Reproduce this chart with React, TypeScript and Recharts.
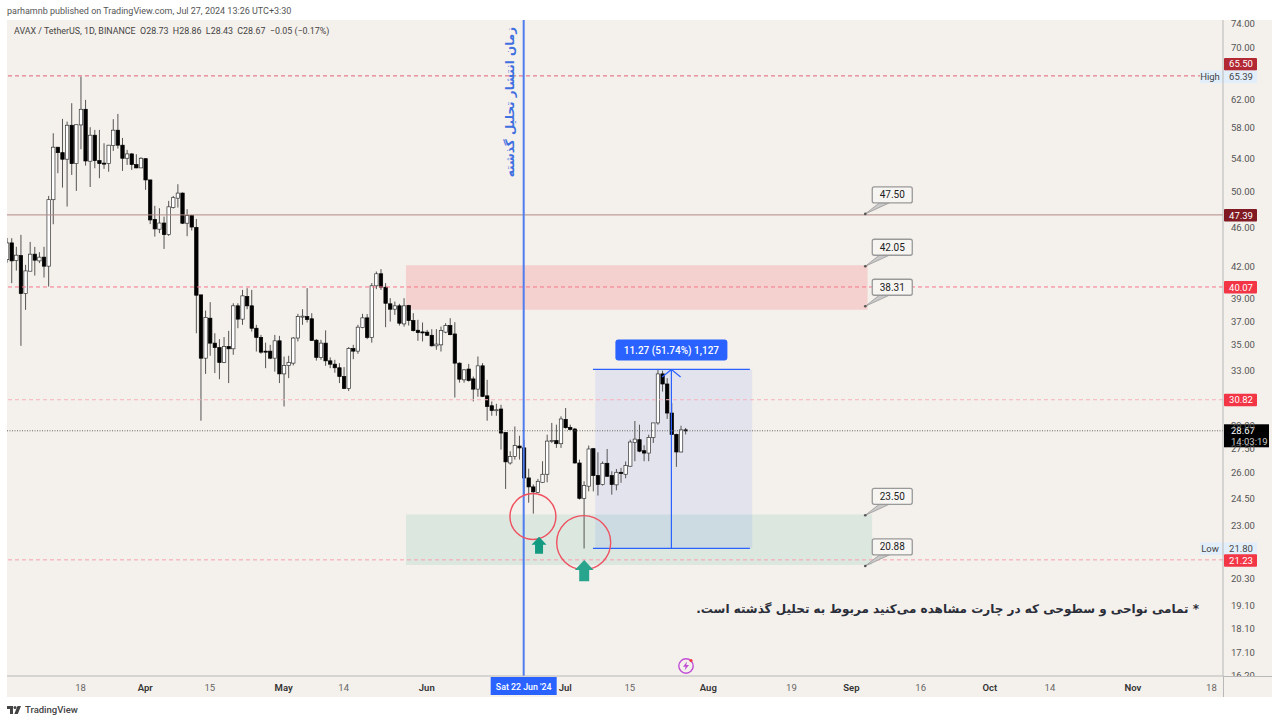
import React from 'react'
import {
  ComposedChart,
  Bar,
  XAxis,
  YAxis,
  ReferenceLine,
  ReferenceArea,
  ReferenceDot,
} from 'recharts'

const opens = [
  42.7,
  44.4, 42.61, 43.11, 39.46, 41.57, 43.25, 42.58, 42.95, 42.06, 49.1,
  55.48, 54.78, 53.95, 58.39, 53.4, 58.43, 60.6, 53.7, 57.05, 53.77,
  53.46, 53.4, 55.69, 57.72, 55.74, 54.07, 54.62, 53.28, 52.87, 54.02,
  51.41, 46.9, 45.84, 46.5, 45.27, 48.21, 49.27, 49.86, 46.48, 47.31,
  46.03, 39.34, 33.95, 37.26, 35.16, 34.8, 33.61, 34.88, 34.7, 38.35,
  37.18, 39.19, 38.35, 36.4, 35.63, 34.51, 34.51, 33.95, 35.35, 32.73,
  33.38, 33.56, 35.58, 37.4, 37.4, 37.21, 35.4, 34.01, 35.16, 33.74,
  33.48, 33.2, 32.53, 31.64, 34.72, 34.51, 36.46, 37.29, 35.63, 40.18,
  41.32, 40.05, 38.53, 38.05, 38.35, 36.77, 38.38, 37.06, 36.23, 36.09,
  36.07, 35.81, 34.94, 35.02, 36.07, 36.63, 35.92, 33.56, 32.28, 33.1,
  32.35, 31.59, 33.35, 31.1, 30.39, 30.09, 30.16, 28.56, 26.6, 27.01,
  27.67, 27.55, 25.69, 25.16, 24.84, 25.43, 25.91, 27.99, 28.02, 27.82,
  29.44, 28.9, 28.79, 26.6, 24.5, 25.2, 27.5, 25.83, 25.3, 26.58,
  25.83, 25.28, 26.03, 25.91, 26.4, 27.9, 28.08, 27.37, 27.22, 28.23,
  29.2, 32.73, 31.97, 29.88, 28.43, 27.29, 28.73,
]
const highs = [
  44.9,
  44.89, 44.0, 45.24, 42.19, 44.5, 43.99, 43.45, 44.0, 49.53, 57.31,
  55.48, 59.26, 58.89, 61.46, 58.46, 65.39, 61.94, 58.12, 57.76, 57.76,
  55.99, 55.78, 59.22, 59.95, 56.69, 55.13, 54.71, 54.58, 54.2, 54.07,
  51.41, 48.4, 48.14, 47.2, 48.96, 49.53, 50.9, 49.93, 48.03, 47.39,
  46.95, 39.34, 37.93, 38.68, 35.98, 35.49, 35.66, 36.18, 38.58, 38.58,
  39.8, 39.96, 39.8, 36.69, 35.84, 35.2, 35.02, 35.84, 35.76, 34.08,
  34.14, 35.66, 37.64, 38.05, 39.96, 37.7, 35.49, 35.43, 36.22, 34.01,
  33.82, 33.56, 33.25, 34.84, 35.02, 36.69, 37.64, 37.62, 40.43, 41.54,
  41.77, 40.43, 39.04, 38.73, 38.53, 39.04, 38.44, 37.7, 37.12, 36.89,
  36.26, 36.32, 36.32, 36.54, 36.83, 37.26, 36.92, 33.61, 33.1, 33.5,
  32.53, 34.08, 33.56, 32.28, 30.7, 30.53, 30.46, 28.56, 27.34, 28.96,
  28.34, 28.08, 26.25, 25.3, 25.63, 26.71, 28.41, 29.2, 29.08, 29.65,
  30.23, 29.08, 28.86, 26.81, 25.49, 27.7, 27.55, 27.27, 26.69, 27.48,
  26.09, 26.23, 26.3, 26.69, 28.08, 29.33, 29.08, 27.72, 28.41, 29.2,
  33.04, 32.98, 32.41, 30.58, 28.48, 29.01, 28.86,
]
const lows = [
  42.4,
  40.43, 41.63, 34.94, 37.99, 41.57, 41.15, 42.36, 40.96, 40.11, 46.37,
  52.22, 50.5, 48.32, 52.01, 50.11, 55.22, 53.15, 50.57, 52.83, 51.61,
  52.75, 52.4, 55.0, 55.3, 52.5, 53.24, 52.62, 52.83, 52.87, 50.23,
  46.39, 45.06, 45.42, 43.78, 45.13, 48.1, 48.21, 46.39, 45.1, 45.7,
  35.98, 29.35, 32.73, 34.14, 32.79, 32.33, 33.56, 32.04, 34.22, 36.4,
  36.69, 38.05, 36.12, 34.48, 34.3, 33.17, 33.87, 32.9, 32.04, 30.34,
  32.41, 33.38, 35.3, 36.69, 36.89, 35.37, 33.76, 33.82, 33.35, 33.17,
  32.82, 32.04, 31.59, 31.45, 33.87, 34.3, 36.4, 35.49, 35.2, 39.87,
  39.8, 36.49, 36.97, 37.55, 36.63, 36.54, 36.63, 36.12, 35.35, 35.3,
  35.76, 34.88, 34.62, 34.48, 35.98, 35.81, 30.98, 32.07, 32.07, 32.15,
  30.7, 31.03, 31.01, 29.35, 29.69, 29.69, 27.44, 25.04, 26.5, 26.81,
  26.81, 24.71, 24.25, 23.64, 24.81, 25.4, 25.43, 27.87, 27.55, 27.55,
  28.81, 28.7, 26.56, 24.43, 21.8, 24.9, 24.9, 24.66, 25.24, 25.75,
  24.71, 24.96, 25.4, 25.67, 26.36, 26.71, 27.27, 26.71, 26.71, 27.87,
  29.08, 31.41, 29.47, 28.39, 26.36, 27.27, 28.43,
]
const closes = [
  44.4,
  42.58, 43.15, 39.46, 41.6, 43.25, 42.65, 42.95, 42.06, 49.1, 55.48,
  54.78, 53.95, 58.39, 53.4, 58.46, 60.6, 53.73, 57.05, 53.77, 53.4,
  53.4, 55.74, 57.72, 55.74, 54.07, 54.62, 53.28, 52.87, 54.07, 51.41,
  46.84, 45.87, 46.5, 45.27, 48.29, 49.33, 49.86, 46.48, 47.31, 46.07,
  39.31, 33.95, 37.32, 35.16, 34.8, 33.61, 34.88, 34.7, 38.35, 37.18,
  39.25, 38.35, 36.4, 35.63, 34.43, 34.48, 33.95, 35.35, 32.73, 33.38,
  33.61, 35.58, 37.4, 37.44, 37.15, 35.37, 34.01, 35.16, 33.74, 33.48,
  33.2, 32.53, 31.64, 34.72, 34.51, 36.49, 37.29, 35.63, 40.18, 41.32,
  40.05, 38.58, 38.05, 38.35, 36.83, 38.35, 37.06, 36.2, 36.03, 36.07,
  35.81, 34.94, 35.08, 36.2, 36.63, 35.86, 33.56, 32.33, 33.04, 32.23,
  31.59, 33.35, 31.06, 30.34, 30.06, 30.11, 28.52, 26.67, 27.01, 27.7,
  27.55, 25.69, 25.16, 24.87, 25.49, 25.91, 27.99, 28.02, 27.82, 29.47,
  28.88, 28.76, 26.6, 24.5, 25.24, 27.48, 25.83, 25.3, 26.58, 25.79,
  25.3, 26.03, 25.95, 26.44, 27.93, 28.12, 27.34, 27.22, 28.23, 29.2,
  32.73, 31.97, 29.88, 28.43, 27.29, 28.73, 28.67,
]

const slotCount = 264
const dayMs = 86400000
const firstDay = Date.UTC(2024, 2, 2)
const dates = Array.from({ length: slotCount }, (_, i) =>
  new Date(firstDay + i * dayMs).toISOString().slice(0, 10)
)

const tickDates = [
  '2024-03-18', '2024-04-01', '2024-04-15', '2024-05-01', '2024-05-14', '2024-06-01',
  '2024-07-01', '2024-07-15', '2024-08-01', '2024-08-19', '2024-09-01', '2024-09-16',
  '2024-10-01', '2024-10-14', '2024-11-01', '2024-11-18',
]
const tickLabels = [
  '18', 'Apr', '15', 'May', '14', 'Jun', 'Jul', '15', 'Aug', '19', 'Sep', '16', 'Oct', '14', 'Nov', '18',
]
const priceTicks = [
  74, 70, 62, 58, 54, 50, 46, 42, 39, 37, 35, 33, 29, 27.5, 26, 24.5, 23, 20.3, 19.1, 18.1, 17.1, 16.2,
]

const rows = dates.map((date, i) => ({
  date,
  open: opens[i],
  high: highs[i],
  low: lows[i],
  close: closes[i],
}))

const BG = '#f4f0eb'
const FONT = 'Roboto, sans-serif'
const BLUE = '#2962ff'

const Candle = (props: any) => {
  const { x, y, width, height, payload } = props
  if (payload.open == null || !height) return null
  const span = Math.log(payload.high) - Math.log(payload.low)
  const yOf = (p: number) => y + (height * (Math.log(payload.high) - Math.log(p))) / span
  const up = payload.close >= payload.open
  const top = yOf(Math.max(payload.open, payload.close))
  const bottom = yOf(Math.min(payload.open, payload.close))
  const mid = x + width / 2
  return (
    <g>
      <line x1={mid} x2={mid} y1={y} y2={y + height} stroke="#555" strokeWidth={1} />
      <rect
        x={x}
        y={top}
        width={width}
        height={Math.max(bottom - top, 1)}
        fill={up ? '#ffffff' : '#000000'}
        stroke={up ? '#333' : '#000'}
        strokeWidth={0.7}
      />
    </g>
  )
}

const DateTick = ({ x, y, payload }: any) => {
  const label = tickLabels[tickDates.indexOf(payload.value)]
  const month = isNaN(Number(label))
  return (
    <text
      x={x}
      y={y - 2}
      dy="0.71em"
      textAnchor="middle"
      fontFamily={FONT}
      fontSize={9.5}
      fontWeight={month ? 600 : 400}
      fill={month ? '#333' : '#666'}
    >
      {label}
    </text>
  )
}

// price tag on the right axis, dy moves it off the line when tags would overlap
const priceTag = (text: string, fill: string, dy = 0) => (props: any) => {
  const { x, y, width } = props.viewBox
  const tx = x + width + 1
  return (
    <g>
      <rect x={tx} y={y + dy - 6} width={33} height={12.5} rx={1} fill={fill} />
      <text x={tx + 17} y={y + dy + 3.6} textAnchor="middle" fontFamily={FONT} fontSize={9.5} fill="#fff">
        {text}
      </text>
    </g>
  )
}

const extremeTag = (name: string, text: string) => (props: any) => {
  const { x, y, width } = props.viewBox
  const tx = x + width
  return (
    <g>
      <rect x={tx - 23} y={y - 6} width={57} height={12.5} fill="#e3eefb" />
      <text x={tx - 13} y={y + 3.6} textAnchor="middle" fontFamily={FONT} fontSize={9.5} fill="#444">
        {name}
      </text>
      <text x={tx + 18} y={y + 3.6} textAnchor="middle" fontFamily={FONT} fontSize={9.5} fill="#444">
        {text}
      </text>
    </g>
  )
}

const lastPriceTag = (props: any) => {
  const { x, y, width } = props.viewBox
  const tx = x + width + 1
  return (
    <g>
      <rect x={tx} y={y - 6.5} width={45} height={23} fill="#000" />
      <text x={tx + 7} y={y + 3.5} fontFamily={FONT} fontSize={9.5} fill="#fff">
        28.67
      </text>
      <text x={tx + 7} y={y + 14} fontFamily={FONT} fontSize={9.5} fill="#ccc">
        14:03:19
      </text>
    </g>
  )
}

const publishDateTag = (props: any) => {
  const { x, y, height } = props.viewBox
  const base = y + height
  return (
    <g>
      <rect x={x - 33} y={base + 1} width={66} height={18} fill={BLUE} />
      <text x={x} y={base + 13.5} textAnchor="middle" fontFamily={FONT} fontSize={8.8} fontWeight={500} fill="#fff">
        Sat 22 Jun '24
      </text>
    </g>
  )
}

const measureTag = (props: any) => {
  const { x, y } = props.viewBox
  return (
    <g>
      <rect x={x - 56} y={y - 30} width={112} height={21} rx={3} fill={BLUE} />
      <text x={x} y={y - 15.8} textAnchor="middle" fontFamily={FONT} fontSize={10} fontWeight={500} fill="#fff">
        11.27 (51.74%) 1,127
      </text>
    </g>
  )
}

const callout = (text: string) => ({ cx, cy }: any) => (
  <g>
    <path
      d={`M${cx} ${cy} L${cx + 14} ${cy - 11} L${cx + 24} ${cy - 11} Z`}
      fill="#c9c9c9"
      stroke="#999"
      strokeWidth={0.8}
    />
    <circle cx={cx} cy={cy} r={1.3} fill="#555" />
    <rect x={cx + 7} y={cy - 27} width={40} height={16} rx={2} fill="#f7f5f2" stroke="#999" strokeWidth={1.3} />
    <text x={cx + 27} y={cy - 15.5} textAnchor="middle" fontFamily={FONT} fontSize={10} fill="#222">
      {text}
    </text>
  </g>
)

const upArrow = (scale: number, color: string, dx: number) => ({ cx, cy }: any) => {
  const h = 8 * scale
  const w = 7.5 * scale
  const s = 4 * scale
  const l = 17 * scale
  const ax = cx + dx
  return (
    <polygon
      points={`${ax},${cy} ${ax + w},${cy + h} ${ax + s},${cy + h} ${ax + s},${cy + l} ${ax - s},${cy + l} ${ax - s},${cy + h} ${ax - w},${cy + h}`}
      fill={color}
    />
  )
}

const AvaxChart = () => (
  <ComposedChart
    width={1280}
    height={723}
    data={rows}
    margin={{ top: 20, right: 8, bottom: 26, left: 4.4 }}
    style={{ position: 'absolute', left: 0, top: 0 }}
  >
    <XAxis
      dataKey="date"
      ticks={tickDates}
      interval={0}
      height={21}
      tick={<DateTick />}
      tickLine={false}
      tickMargin={4}
      axisLine={{ stroke: '#b8b8b8' }}
    />
    <YAxis
      orientation="right"
      width={49}
      scale="log"
      type="number"
      domain={[16.2, 74.6]}
      allowDataOverflow
      ticks={priceTicks}
      interval={0}
      tickFormatter={(v: number) => v.toFixed(2)}
      tick={{ fontFamily: FONT, fontSize: 9.5, fill: '#555' }}
      tickLine={false}
      tickMargin={2}
      axisLine={{ stroke: '#b8b8b8' }}
    />

    <ReferenceArea x1={dates[87]} x2={dates[186]} y1={38.0} y2={42.15} fill="#f23645" fillOpacity={0.17} stroke="none" />
    <ReferenceArea x1={dates[87]} x2={dates[187]} y1={20.98} y2={23.6} fill="#089981" fillOpacity={0.1} stroke="none" />
    <ReferenceArea x1={dates[128]} x2={dates[161]} y1={21.8} y2={33.07} fill={BLUE} fillOpacity={0.09} stroke="none" />

    <ReferenceLine y={65.5} stroke="#e0627a" strokeDasharray="4 3" label={priceTag('65.50', '#b22833', -12)} />
    <ReferenceLine y={65.39} stroke="none" label={extremeTag('High', '65.39')} />
    <ReferenceLine y={47.39} stroke="#b08a85" label={priceTag('47.39', '#801922')} />
    <ReferenceLine y={40.07} stroke="#f7758a" strokeDasharray="4 3" label={priceTag('40.07', '#f23645')} />
    <ReferenceLine y={30.82} stroke="#f7b3bd" strokeDasharray="4 3" label={priceTag('30.82', '#f23645')} />
    <ReferenceLine y={28.67} stroke="#666" strokeDasharray="1 1.5" label={lastPriceTag} />
    <ReferenceLine y={21.8} stroke="none" label={extremeTag('Low', '21.80')} />
    <ReferenceLine y={21.23} stroke="#f7a0ae" strokeDasharray="4 3" label={priceTag('21.23', '#f23645', 0.5)} />

    <Bar
      dataKey={(d: any) => (d.open == null ? undefined : [d.low, d.high])}
      barSize={3.4}
      shape={<Candle />}
      isAnimationActive={false}
    />

    <ReferenceLine x={dates[112]} stroke="#4f7df0" strokeWidth={2} label={publishDateTag} />

    <ReferenceLine segment={[{ x: dates[127], y: 33.07 }, { x: dates[161], y: 33.07 }]} stroke={BLUE} strokeWidth={1.2} />
    <ReferenceLine segment={[{ x: dates[127], y: 21.8 }, { x: dates[161], y: 21.8 }]} stroke={BLUE} strokeWidth={1.2} />
    <ReferenceLine segment={[{ x: dates[144], y: 21.8 }, { x: dates[144], y: 33.07 }]} stroke={BLUE} strokeWidth={1.2} label={measureTag} />
    <ReferenceLine segment={[{ x: dates[142], y: 32.5 }, { x: dates[144], y: 33.07 }]} stroke={BLUE} strokeWidth={1.2} />
    <ReferenceLine segment={[{ x: dates[146], y: 32.5 }, { x: dates[144], y: 33.07 }]} stroke={BLUE} strokeWidth={1.2} />

    <ReferenceDot x={dates[114]} y={23.48} r={23} fill="none" stroke="#ef5160" strokeWidth={1.4} ifOverflow="visible" />
    <ReferenceDot x={dates[125]} y={22.1} r={27} fill="none" stroke="#ef5160" strokeWidth={1.4} ifOverflow="visible" />
    <ReferenceDot x={dates[115]} y={22.4} r={1} shape={upArrow(1, '#139a80', 1.5)} ifOverflow="visible" />
    <ReferenceDot x={dates[125]} y={21.22} r={1} shape={upArrow(1.25, '#2aa58d', 0.5)} ifOverflow="visible" />

    <ReferenceDot x={dates[186]} y={47.5} r={1} shape={callout('47.50')} ifOverflow="visible" />
    <ReferenceDot x={dates[186]} y={42.05} r={1} shape={callout('42.05')} ifOverflow="visible" />
    <ReferenceDot x={dates[186]} y={38.31} r={1} shape={callout('38.31')} ifOverflow="visible" />
    <ReferenceDot x={dates[186]} y={23.55} r={1} shape={callout('23.50')} ifOverflow="visible" />
    <ReferenceDot x={dates[186]} y={20.93} r={1} shape={callout('20.88')} ifOverflow="visible" />
  </ComposedChart>
)

export default function App() {
  const abs = { position: 'absolute' as const, whiteSpace: 'nowrap' as const, fontFamily: FONT }
  return (
    <div style={{ position: 'absolute', left: 0, top: 0, width: 1280, height: 723, background: '#fff', overflow: 'hidden' }}>
      <div style={{ position: 'absolute', left: 7, top: 20, width: 1265, height: 677, background: BG }} />
      <AvaxChart />

      {/* the first day's slot runs under the page margin */}
      <div style={{ position: 'absolute', left: 0, top: 20, width: 7, height: 677, background: '#fff' }} />

      {/* axis line ends and the clip under the last price tick */}
      <div style={{ position: 'absolute', left: 1224, top: 677, width: 48, height: 20, background: BG }} />
      <div style={{ position: 'absolute', left: 1223, top: 676, width: 1, height: 21, background: '#b8b8b8' }} />
      <div style={{ position: 'absolute', left: 1223, top: 676, width: 49, height: 1, background: '#b8b8b8' }} />

      <div style={{ ...abs, left: 7, top: 6, fontSize: 9, color: '#555' }}>
        parhamnb published on TradingView.com, Jul 27, 2024 13:26 UTC+3:30
      </div>
      <div style={{ ...abs, left: 14, top: 26, fontSize: 8.9, color: '#444', whiteSpace: 'pre' }}>
        {'AVAX / TetherUS, 1D, BINANCE  O28.73  H28.86  L28.43  C28.67  −0.05 (−0.17%)'}
      </div>

      <div
        dir="rtl"
        style={{
          ...abs,
          left: 510,
          top: 102,
          fontFamily: '"DejaVu Sans", sans-serif',
          fontWeight: 700,
          fontSize: 12,
          color: '#3f6fe0',
          transform: 'translate(-50%, -50%) rotate(-90deg)',
        }}
      >
        زمان انتشار تحلیل گذشته
      </div>

      <div
        dir="rtl"
        style={{
          ...abs,
          right: 1280 - 1199,
          top: 602,
          fontFamily: '"DejaVu Sans", sans-serif',
          fontWeight: 700,
          fontSize: 12,
          color: '#2a2e39',
        }}
      >
        * تمامی نواحی و سطوحی که در چارت مشاهده می‌کنید مربوط به تحلیل گذشته است.
      </div>

      <svg style={{ position: 'absolute', left: 676, top: 656 }} width={20} height={20}>
        <circle cx={10} cy={10} r={7.2} fill="none" stroke="#c04fd6" strokeWidth={1.4} />
        <path d="M11 5.5 L7 10.8 L9.6 10.8 L8.6 14.5 L13 9 L10.3 9 Z" fill="#c04fd6" />
        <circle cx={15} cy={4.5} r={1.6} fill="#f23645" />
      </svg>

      <svg style={{ position: 'absolute', left: 7, top: 705 }} width={14} height={10}>
        <path d="M0 1 H6 V9 H3 V4 H0 Z" fill="#444" />
        <circle cx={8} cy={2.5} r={1.5} fill="#444" />
        <path d="M10.5 1 H14 L10.8 9 H7.3 Z" fill="#444" />
      </svg>
      <div style={{ ...abs, left: 25, top: 704, fontSize: 9.5, fontWeight: 500, color: '#444' }}>TradingView</div>
    </div>
  )
}
